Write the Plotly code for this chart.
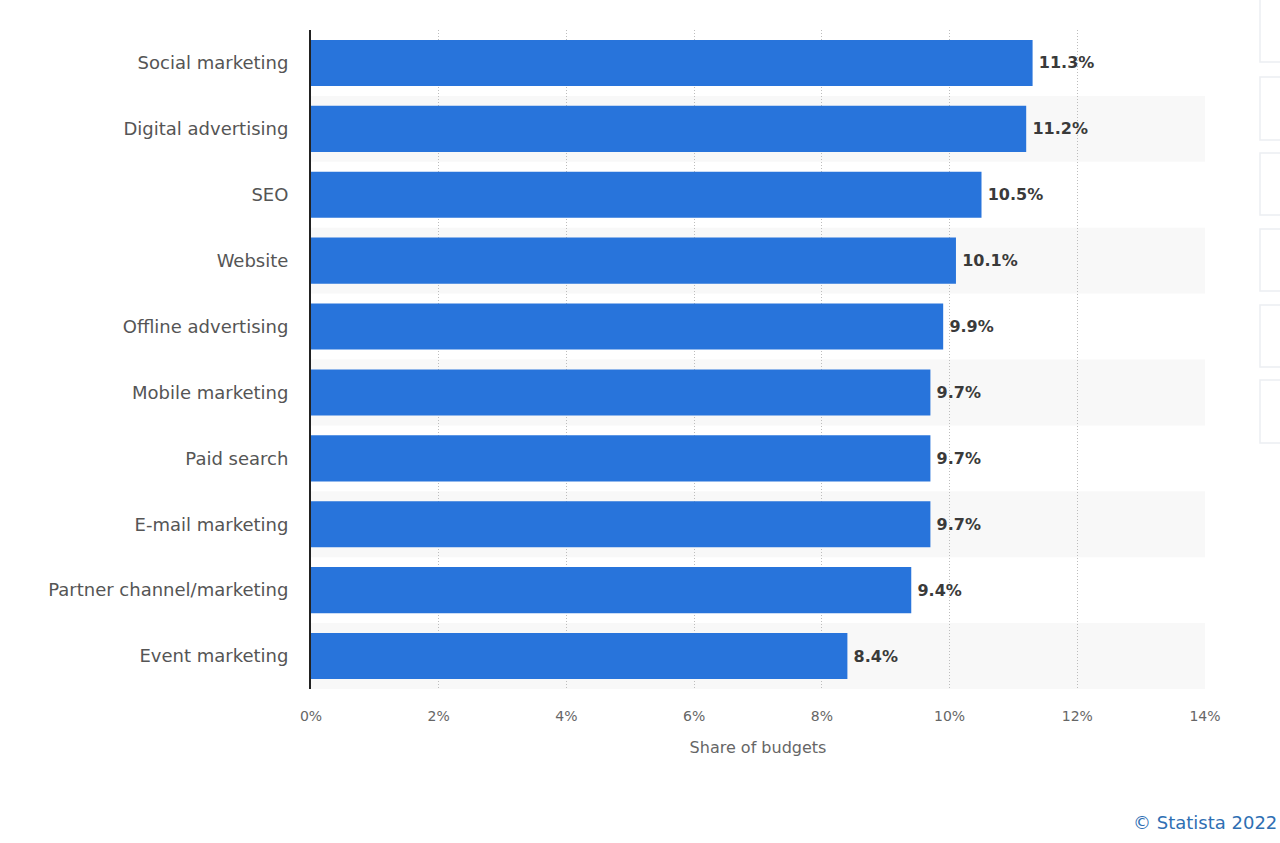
import plotly.graph_objects as go

categories = ["Social marketing", "Digital advertising", "SEO", "Website",
              "Offline advertising", "Mobile marketing", "Paid search",
              "E-mail marketing", "Partner channel/marketing", "Event marketing"]
values = [11.3, 11.2, 10.5, 10.1, 9.9, 9.7, 9.7, 9.7, 9.4, 8.4]
x_ticks = [0, 2, 4, 6, 8, 10, 12, 14]
x_tick_labels = ["0%", "2%", "4%", "6%", "8%", "10%", "12%", "14%"]

W, H = 1280, 843
L, R, T, B = 311, 75, 30, 154
PW = W - L - R
PH = H - T - B

def px_x(p):
    return (p - L) / PW

def px_y(p):
    return (H - B - p) / PH

FONT = "DejaVu Sans"

fig = go.Figure()
fig.add_trace(go.Bar(
    y=categories, x=values, orientation="h",
    marker=dict(color="#2874db", line=dict(width=0)),
    width=0.7,
    text=[f"\u2009{v:.1f}%" for v in values],
    textposition="outside",
    textfont=dict(family=FONT, size=16, color="#3a3a3a", weight="bold"),
    cliponaxis=False,
    hoverinfo="skip",
))

shapes = []
# alternating row bands
for i in range(len(categories)):
    if i % 2 == 1:
        shapes.append(dict(type="rect", xref="x", yref="y", x0=0, x1=14,
                           y0=i - 0.5, y1=i + 0.5, fillcolor="#f8f8f8",
                           line=dict(width=0), layer="below"))
# right side UI boxes
box_ranges = [(-5, 62), (77, 140), (153, 215), (229, 291), (305, 367), (380, 443)]
for y0, y1 in box_ranges:
    shapes.append(dict(type="rect", xref="paper", yref="paper",
                       x0=px_x(1260), x1=px_x(1300), y0=px_y(y1), y1=px_y(y0),
                       fillcolor="white", line=dict(color="#eceef2", width=1.5)))
fig.update_layout(shapes=shapes)

fig.update_layout(
    width=W, height=H,
    margin=dict(l=L, r=R, t=T, b=B, pad=0),
    paper_bgcolor="white", plot_bgcolor="white",
    showlegend=False,
    bargap=0.3,
    font=dict(family=FONT),
    xaxis=dict(
        range=[0, 14], tickvals=x_ticks, ticktext=x_tick_labels,
        showgrid=True, gridcolor="#bdbdbd", griddash="1px,2px", gridwidth=1,
        zeroline=False, showline=False,
        tickfont=dict(family=FONT, size=14, color="#666666"),
        ticks="", ticklabelstandoff=17,
        title=dict(text="Share of budgets", font=dict(family=FONT, size=16, color="#666666"),
                   standoff=18),
        fixedrange=True,
    ),
    yaxis=dict(
        categoryorder="array", categoryarray=categories,
        autorange="reversed",
        showgrid=False, zeroline=False,
        showline=True, linecolor="#222222", linewidth=2,
        ticks="", ticklabelstandoff=17,
        tickfont=dict(family=FONT, size=18, color="#555555"),
        fixedrange=True,
    ),
    annotations=[dict(
        text="© Statista 2022", xref="paper", yref="paper",
        x=px_x(1279), y=px_y(822), xanchor="right", yanchor="middle",
        showarrow=False, font=dict(family=FONT, size=18, color="#2f6fb3"),
    )],
)

fig.write_html("out.html")
